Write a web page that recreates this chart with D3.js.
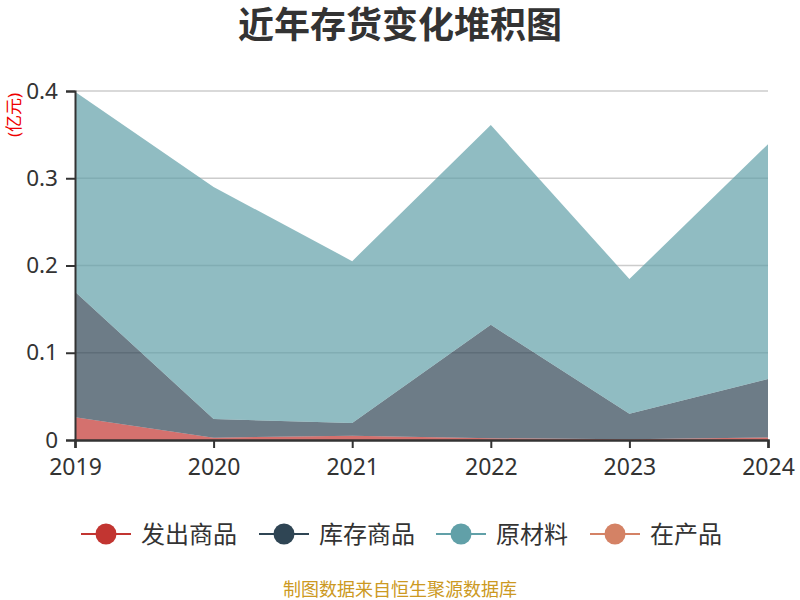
<!DOCTYPE html>
<html><head><meta charset="utf-8">
<script src="https://cdn.jsdelivr.net/npm/d3@7/dist/d3.min.js"></script>
<style>body{margin:0;background:#fff}svg{display:block}</style>
</head><body><svg id="c" width="800" height="600"></svg>
<script>
const years = ["2019","2020","2021","2022","2023","2024"];
const seriesNames = ["发出商品","库存商品","原材料","在产品"];
const colors = ["#c23531","#2f4554","#61a0a8","#d48265"];
const faChuShangPin = [0.026, 0.0027, 0.005, 0.002, 0.001, 0.003];
const kuCunShangPin = [0.144, 0.0213, 0.0145, 0.130, 0.029, 0.067];
const yuanCaiLiao = [0.229, 0.266, 0.1855, 0.229, 0.1545, 0.269];
const zaiChanPin = [0, 0, 0, 0, 0, 0];
const yTicks = [0, 0.1, 0.2, 0.3, 0.4];

const svg = d3.select("#c");
const font = "'Noto Sans','Noto Sans CJK SC',sans-serif";
const L = 75, R = 768, T = 91, B = 440;

const table = years.map((y,i)=>({year:y, [seriesNames[0]]:faChuShangPin[i], [seriesNames[1]]:kuCunShangPin[i], [seriesNames[2]]:yuanCaiLiao[i], [seriesNames[3]]:zaiChanPin[i]}));
const stacked = d3.stack().keys(seriesNames)(table);

const x = d3.scalePoint().domain(years).range([L, R]);
const y = d3.scaleLinear().domain([0, 0.4]).range([B, T]);

// title
svg.append("text").attr("x",400).attr("y",38).attr("text-anchor","middle")
  .attr("font-family",font).attr("font-size",36).attr("font-weight","bold").attr("fill","#333")
  .text("近年存货变化堆积图");

// grid
svg.append("g").selectAll("line").data(yTicks.filter(d=>d>0)).join("line")
  .attr("x1",L).attr("x2",R).attr("y1",d=>y(d)).attr("y2",d=>y(d))
  .attr("stroke","#ccc").attr("stroke-width",1.5);

// areas
const area = d3.area().x(d=>x(d.data.year)).y0(d=>y(d[0])).y1(d=>y(d[1]));
svg.append("g").selectAll("path").data(stacked).join("path")
  .attr("d",area).attr("fill",(d,i)=>colors[i]).attr("fill-opacity",0.7);

// y axis
const yAxis = d3.axisLeft(y).tickValues(yTicks).tickFormat(d=>d===0?"0":d3.format(".1f")(d)).tickSize(9).tickPadding(8);
const gy = svg.append("g").attr("transform",`translate(${L},0)`).call(yAxis);
gy.select(".domain").attr("stroke","#333").attr("stroke-width",2);
gy.selectAll(".tick line").attr("stroke","#333").attr("stroke-width",2);
gy.selectAll(".tick text").attr("font-family",font).attr("font-size",22.5).attr("fill","#333");

// x axis
const xAxis = d3.axisBottom(x).tickSize(8).tickPadding(11);
const gx = svg.append("g").attr("transform",`translate(0,${B})`).call(xAxis);
gx.select(".domain").attr("stroke","#333").attr("stroke-width",2.5);
gx.selectAll(".tick line").attr("stroke","#333").attr("stroke-width",2);
gx.selectAll(".tick text").attr("font-family",font).attr("font-size",23).attr("fill","#333");

// unit
svg.append("text").attr("transform","translate(20,115) rotate(-90)").attr("text-anchor","middle")
  .attr("font-family",font).attr("font-size",17).attr("fill","#e00").text("(亿元)");

// legend
const legendX = [106, 284, 461, 615];
const lg = svg.append("g").selectAll("g").data(seriesNames).join("g")
  .attr("transform",(d,i)=>`translate(${legendX[i]},534)`);
lg.append("line").attr("x1",-25).attr("x2",25).attr("stroke",(d,i)=>colors[i]).attr("stroke-width",2);
lg.append("circle").attr("r",10.5).attr("fill",(d,i)=>colors[i]);
lg.append("text").attr("x",35).attr("y",8.5).attr("font-family",font).attr("font-size",24).attr("fill","#333").text(d=>d);

// source
svg.append("text").attr("x",400).attr("y",596).attr("text-anchor","middle")
  .attr("font-family",font).attr("font-size",18).attr("fill","#cc9922").text("制图数据来自恒生聚源数据库");
</script></body></html>
